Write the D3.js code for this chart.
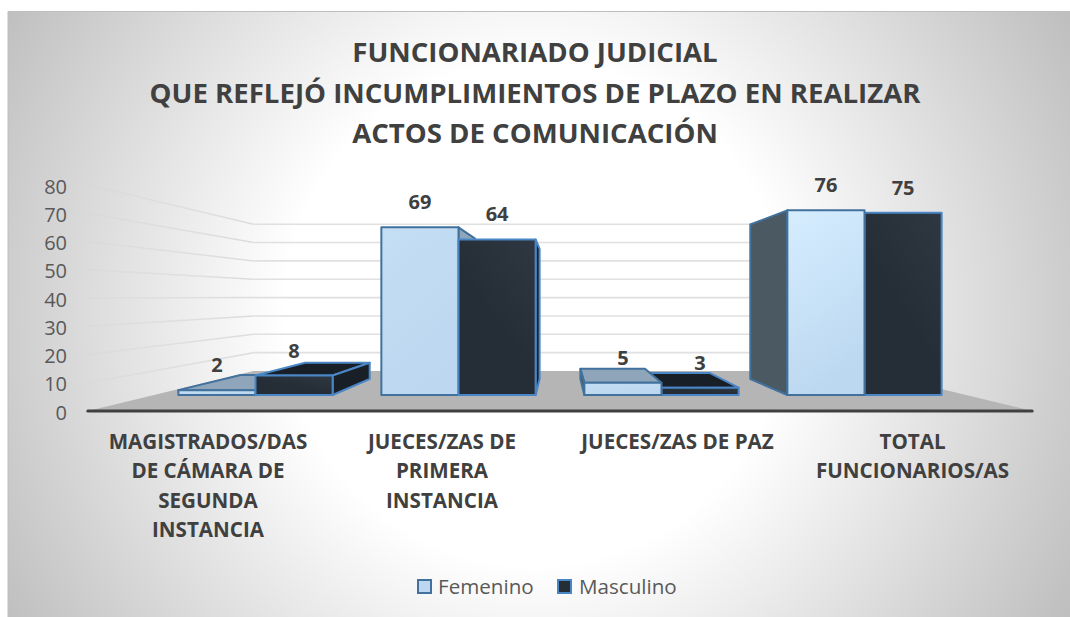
<!DOCTYPE html>
<html><head><meta charset="utf-8">
<script src="https://cdn.jsdelivr.net/npm/d3@7/dist/d3.min.js"></script>
<style>html,body{margin:0;padding:0;background:#fff}svg{display:block}text{font-family:"Open Sans",sans-serif}</style>
</head><body><svg id="c" width="1070" height="617"></svg>
<script>
const categories=[["MAGISTRADOS/DAS","DE CÁMARA DE","SEGUNDA","INSTANCIA"],["JUECES/ZAS DE","PRIMERA","INSTANCIA"],["JUECES/ZAS DE PAZ"],["TOTAL","FUNCIONARIOS/AS"]];
const femenino=[2,69,5,76];
const masculino=[8,64,3,75];
const seriesNames=["Femenino","Masculino"];
const yTicks=[0,10,20,30,40,50,60,70,80];
const titleLines=["FUNCIONARIADO JUDICIAL","QUE REFLEJÓ INCUMPLIMIENTOS DE PLAZO EN REALIZAR","ACTOS DE COMUNICACIÓN"];

const svg=d3.select("#c"),defs=svg.append("defs");
const x=d3.scaleBand().domain(d3.range(4)).range([154,966]);
const y=d3.scaleLinear().domain([0,80]).range([395,200.6]);
const vp=[560,297],sBack=.837,sWall=.755,sFront=1.163;
const P=(px,py,s)=>[vp[0]+(px-vp[0])*s,vp[1]+(py-vp[1])*s];
const poly=pts=>"M"+pts.map(p=>p.join(",")).join("L")+"Z";

const bg=defs.append("radialGradient").attr("id","bg").attr("gradientUnits","userSpaceOnUse")
 .attr("cx",535).attr("cy",314).attr("r",610);
bg.append("stop").attr("offset",.41).attr("stop-color","#ffffff");
bg.append("stop").attr("offset",1).attr("stop-color","#bfbfbf");
svg.append("rect").attr("x",8).attr("y",11).attr("width",1062).attr("height",606).attr("fill","url(#bg)");
svg.append("path").attr("d","M8,617V11.5H1070").attr("fill","none").attr("stroke","#bdbdbd").attr("stroke-width",1);

const wall=defs.append("linearGradient").attr("id","wall").attr("gradientUnits","userSpaceOnUse").attr("x1",87).attr("x2",253).attr("y1",0).attr("y2",0);
wall.append("stop").attr("offset",0).attr("stop-color","#d4d4d4").attr("stop-opacity",.3);
wall.append("stop").attr("offset",1).attr("stop-color","#dcdcdc");

// walls
const g=svg.append("g");
yTicks.slice(1).forEach(v=>{
 const a=P(x.range()[0],y(v),sFront),b=P(x.range()[0],y(v),sWall),c=P(x.range()[1],y(v),sWall);
 g.append("path").attr("d",`M${a}L${[b[0],b[1]+.01]}`).attr("fill","none").attr("stroke","url(#wall)").attr("stroke-width",1.5);
 g.append("path").attr("d",`M${b}L${c}`).attr("stroke","#e0e0e0").attr("stroke-width",1.6);
});
// floor
g.append("path").attr("fill","#b5b5b5").attr("d",poly([P(154,395,sFront),P(154,395,sWall),P(966,395,sWall),P(966,395,sFront)]));
const fl=P(154,395,sFront),fr=P(966,395,sFront);
g.append("line").attr("x1",fl[0]).attr("x2",fr[0]).attr("y1",fl[1]).attr("y2",fr[1]).attr("stroke","#404040").attr("stroke-width",3).attr("stroke-linecap","round");

// y tick labels
const axisY=d=>P(154,y(d),sFront)[1]+1.5;
svg.append("g").selectAll("text").data(yTicks).join("text").attr("x",67).attr("y",d=>axisY(d)).attr("dy",".36em")
 .attr("text-anchor","end").attr("font-size",20).attr("fill","#595959").text(d=>d);

// bars
const bw=x.bandwidth()*.38;
const styles=[{stroke:"#41719c",top:"#8fa6ba",rside:"#8fa6ba",lside:"#4a5962",front:"url(#fem)"},
 {stroke:"#4a86c5",top:"#181f27",rside:"#181f27",lside:"#181f27",front:"url(#mas)"}];
const fem=defs.append("linearGradient").attr("id","fem").attr("x1",0).attr("y1",0).attr("x2",.4).attr("y2",1);
fem.append("stop").attr("offset",0).attr("stop-color","#c4def4");fem.append("stop").attr("offset",1).attr("stop-color","#bcd7ef");
const mas=defs.append("linearGradient").attr("id","mas").attr("x1",1).attr("y1",0).attr("x2",.3).attr("y2",1);
mas.append("stop").attr("offset",0).attr("stop-color","#2f3842");mas.append("stop").attr("offset",.6).attr("stop-color","#252d36");
const fem4=defs.append("linearGradient").attr("id","fem4").attr("x1",0).attr("y1",0).attr("x2",.3).attr("y2",1);
fem4.append("stop").attr("offset",0).attr("stop-color","#d6edff");fem4.append("stop").attr("offset",1).attr("stop-color","#bcd8f0");

const bars=[];
[femenino,masculino].forEach((vals,si)=>vals.forEach((v,ci)=>{
 const cx=x(ci)+x.bandwidth()/2;
 bars.push({si,ci,v,x0:si===0?cx-bw:cx,x1:si===0?cx:cx+bw});
}));
const order=[...bars].sort((a,b)=>a.ci-b.ci||(a.ci<2?a.si-b.si:b.si-a.si));
const bg2=svg.append("g").attr("stroke-linejoin","round");
order.forEach(b=>{
 const st=styles[b.si],yt=y(b.v),yb=y(0);
 const grp=bg2.append("g").attr("stroke",st.stroke).attr("stroke-width",2);
 if(yt>vp[1]) grp.append("path").attr("fill",st.top).attr("d",poly([[b.x0,yt],[b.x1,yt],P(b.x1,yt,sBack),P(b.x0,yt,sBack)]));
 if(b.x1<vp[0]) grp.append("path").attr("fill",st.rside).attr("d",poly([[b.x1,yt],P(b.x1,yt,sBack),P(b.x1,yb,sBack),[b.x1,yb]]));
 if(b.x0>vp[0]) grp.append("path").attr("fill",st.lside).attr("d",poly([[b.x0,yt],P(b.x0,yt,sBack),P(b.x0,yb,sBack),[b.x0,yb]]));
 grp.append("rect").attr("x",b.x0).attr("y",yt).attr("width",b.x1-b.x0).attr("height",yb-yt)
  .attr("fill",b.si===0&&b.ci===3?"url(#fem4)":st.front);
});
// value labels
const labelG=svg.append("g");
bars.forEach(b=>{
 labelG.append("text").attr("x",(b.x0+b.x1)/2).attr("y",y(b.v)-18).attr("text-anchor","middle")
  .attr("font-size",20).attr("font-weight",700).attr("fill","#404040").text(b.v);
});

// title
svg.append("g").selectAll("text").data(titleLines).join("text").attr("x",535).attr("y",(d,i)=>62+i*40.5)
 .attr("text-anchor","middle").attr("font-size",27.6).attr("font-weight",700).attr("fill","#404040").text(d=>d);

// category labels
const catX=[208,442,677.5,912.5];
categories.forEach((lines,i)=>{
 svg.append("text").attr("text-anchor","middle").attr("font-size",20.6).attr("font-weight",700).attr("fill","#404040")
 .selectAll("tspan").data(lines).join("tspan").attr("x",catX[i]).attr("y",(d,k)=>449+k*29.3).text(d=>d);
});

// legend
const lx=[418,558],lt=[438,579];
seriesNames.forEach((n,i)=>{
 svg.append("rect").attr("x",lx[i]).attr("y",580).attr("width",13).attr("height",13)
  .attr("fill",i?"#252d36":"#bcd7ef").attr("stroke",i?"#4a86c5":"#41719c").attr("stroke-width",2);
 svg.append("text").attr("x",lt[i]).attr("y",594).attr("font-size",20.6).attr("fill","#595959").text(n);
});
</script></body></html>
